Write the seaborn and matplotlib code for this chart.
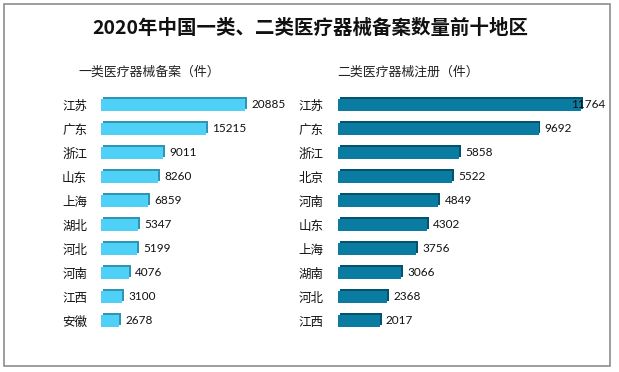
import matplotlib
matplotlib.use("Agg")
import matplotlib.pyplot as plt
import matplotlib.patheffects as pe
from matplotlib.patches import Rectangle
import seaborn as sns
import pandas as pd

title = "2020年中国一类、二类医疗器械备案数量前十地区"
left_title = "一类医疗器械备案（件）"
right_title = "二类医疗器械注册（件）"

left_regions = ["江苏", "广东", "浙江", "山东", "上海", "湖北", "河北", "河南", "江西", "安徽"]
left_values = [20885, 15215, 9011, 8260, 6859, 5347, 5199, 4076, 3100, 2678]

right_regions = ["江苏", "广东", "浙江", "北京", "河南", "山东", "上海", "湖南", "河北", "江西"]
right_values = [11764, 9692, 5858, 5522, 4849, 4302, 3756, 3066, 2368, 2017]

sns.set_theme(style="white")
plt.rcParams['font.family'] = ['Noto Sans CJK SC', 'DejaVu Sans']

W, H = 619, 372
fig = plt.figure(figsize=(W / 100, H / 100), dpi=100)
fig.patch.set_facecolor("white")

# border
fig.add_artist(Rectangle((4 / W, 6 / H), 606 / W, 362 / H, transform=fig.transFigure,
                         fill=False, edgecolor="#8c8c8c", linewidth=1.2))

fig.text(310 / W, 1 - 28 / H, title, ha="center", va="center", fontsize=14,
         fontweight="bold", color="#111111")
fig.text(78 / W, 1 - 72 / H, left_title, ha="left", va="center", fontsize=9.3, color="#222222")
fig.text(337 / W, 1 - 72 / H, right_title, ha="left", va="center", fontsize=9.3, color="#222222")

def panel(rect, cats, vals, face, side, xmax, pad):
    ax = fig.add_axes(rect)
    df = pd.DataFrame({"region": cats, "value": vals})
    sns.barplot(data=df, y="region", x="value", orient="h", ax=ax, color=face,
                saturation=1, width=0.5, edgecolor="none")
    for p in ax.patches:
        p.set_path_effects([pe.SimplePatchShadow(offset=(1.3, 1.3), shadow_rgbFace=side, alpha=1.0),
                            pe.Normal()])
    ax.set_xlim(0, xmax)
    ax.set_ylim(9.5, -0.5)
    axw_px = rect[2] * W
    for i, v in enumerate(vals):
        end_px = v / xmax * axw_px
        if end_px + 5 + 30 > axw_px:
            ax.text(1.0, i, f"{v}", transform=ax.get_yaxis_transform(), ha="right",
                    va="center", fontsize=8.5, color="#111111", family=['Lato', 'DejaVu Sans'])
        else:
            ax.annotate(f"{v}", xy=(v, i), xytext=(4.5, 0), textcoords="offset points",
                        ha="left", va="center", fontsize=8.5, color="#111111",
                        family=['Lato', 'DejaVu Sans'])
    ax.set_xlabel("")
    ax.set_ylabel("")
    ax.set_xticks([])
    ax.tick_params(axis="y", length=0, pad=pad, labelsize=9, labelcolor="#111111")
    for s in ax.spines.values():
        s.set_visible(False)
    ax.patch.set_alpha(0)
    return ax

top = 93
bottom = 333
panel([101 / W, 1 - bottom / H, 207 / W, (bottom - top) / H], left_regions, left_values,
      "#4fd0f7", "#2f95b5", 30000, 10)
panel([338 / W, 1 - bottom / H, 267 / W, (bottom - top) / H], right_regions, right_values,
      "#0a7ba1", "#05526d", 12900, 10.5)

fig.savefig("out.png", dpi=100)
